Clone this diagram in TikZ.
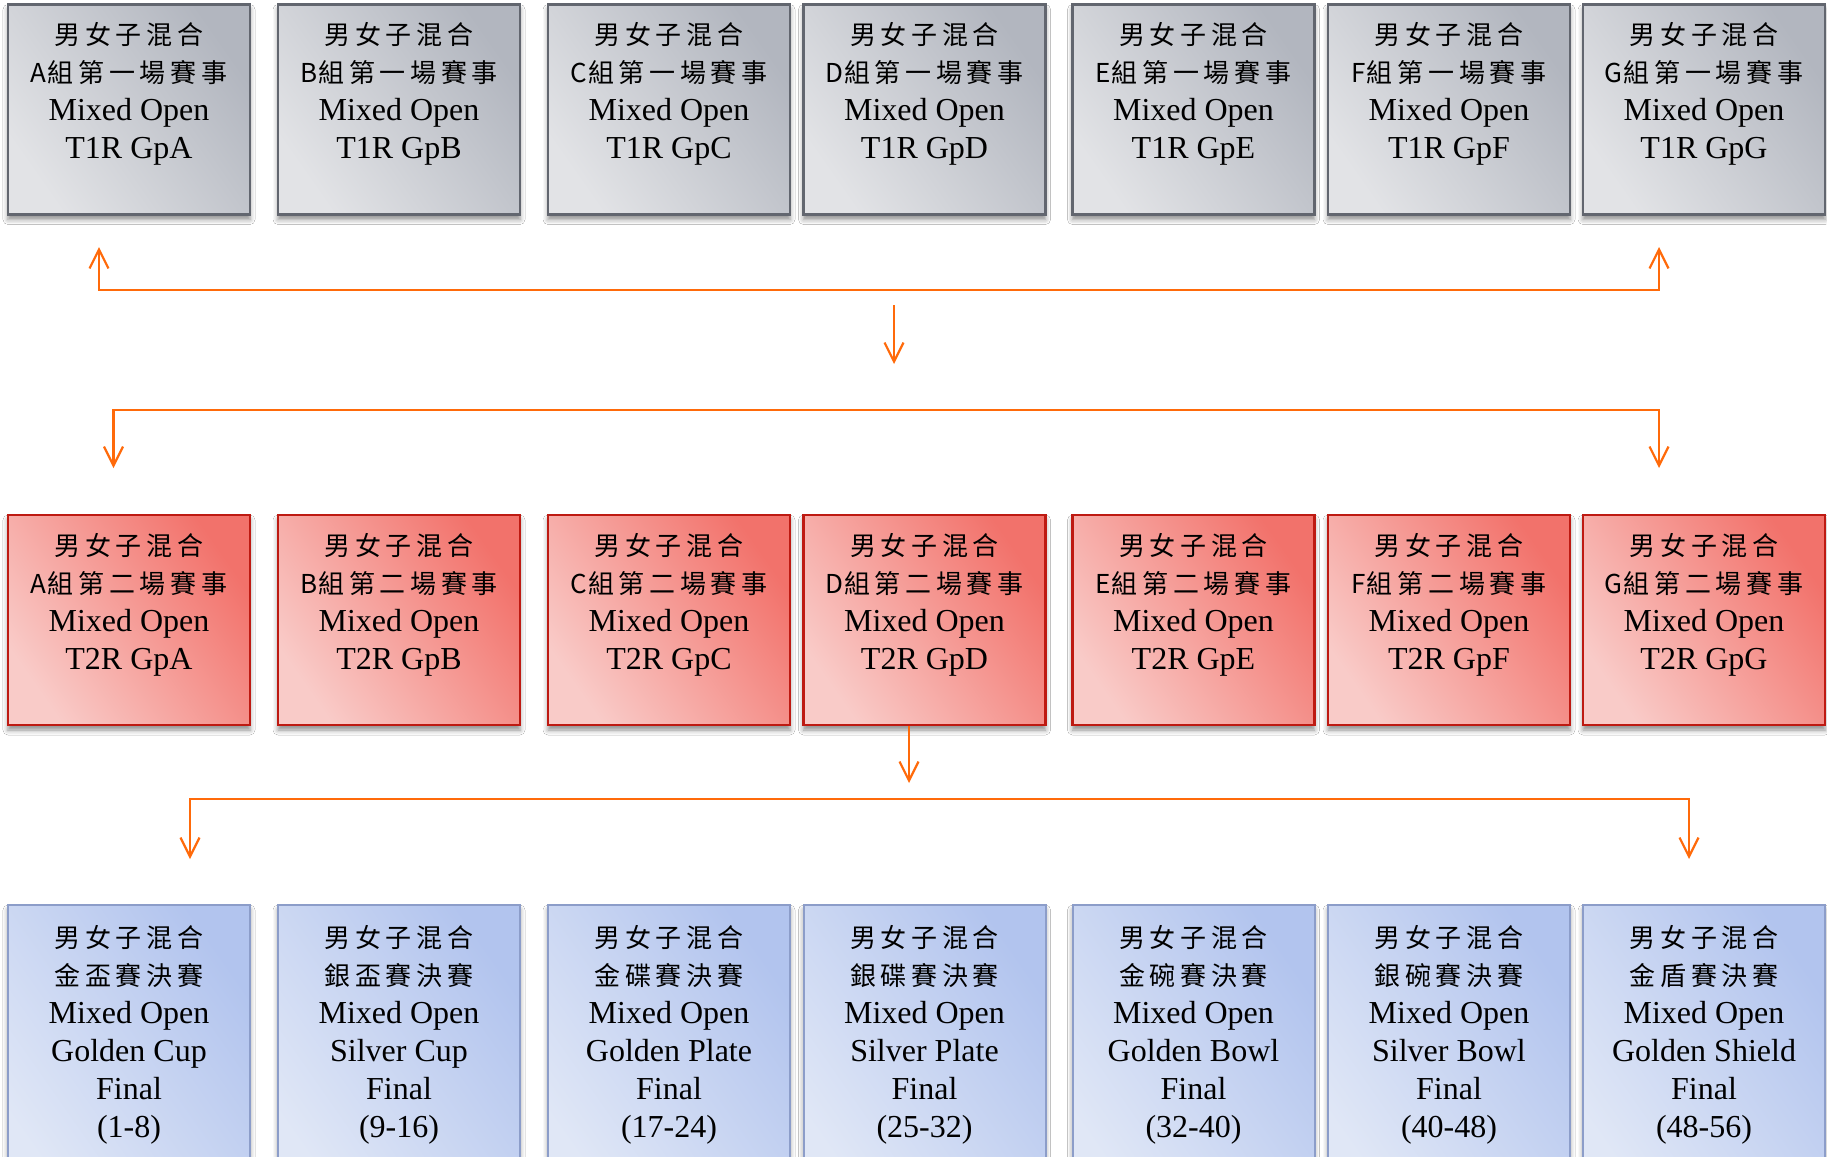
\documentclass[tikz,border=0pt]{standalone}
\usepackage{fontspec}
\setmainfont{Liberation Serif}
\newfontfamily\cjk{Noto Sans CJK TC}[LetterSpace=18]
\newfontfamily\cjkn{Noto Sans CJK TC}
\usetikzlibrary{arrows.meta,shadows.blur}
\definecolor{grayB}{HTML}{62666F}
\definecolor{grayD}{HTML}{B2B6BF}
\definecolor{grayL}{HTML}{E2E3E6}
\definecolor{redB}{HTML}{BE1A12}
\definecolor{redD}{HTML}{F2726B}
\definecolor{redL}{HTML}{F9CBC8}
\definecolor{bluB}{HTML}{8C9DC9}
\definecolor{bluD}{HTML}{B2C4EE}
\definecolor{bluL}{HTML}{E0E7F6}
\definecolor{orng}{HTML}{FF6A0A}
\newcommand\zhl[1]{{\cjk\fontsize{13}{19}\selectfont #1}}
\newcommand\zhg[2]{{\fontsize{13}{19}\selectfont{\cjkn #1}\kern0.5pt{\cjk #2}}}
\tikzset{
  boxbase/.style={rectangle, minimum width=121pt, inner sep=0pt, line width=1.3pt,
    blur shadow={shadow xshift=0pt, shadow yshift=-2.5pt, shadow blur radius=2.5pt, shadow opacity=45}},
  graybox/.style={boxbase, minimum height=105pt, draw=grayB, top color=grayD, bottom color=grayL, shading angle=-55},
  redbox/.style={boxbase, minimum height=105pt, draw=redB, top color=redD, bottom color=redL, shading angle=-55},
  blubox/.style={boxbase, minimum height=150pt, line width=1pt, draw=bluB, top color=bluD, bottom color=bluL, shading angle=-55},
  txt/.style={anchor=north, align=center, inner sep=0pt, yshift=-9.5pt, font=\fontsize{16}{19}\selectfont},
  tipb/.tip={Straight Barb[length=9.5pt,width=9.5pt]},
  arr/.style={draw=orng, line width=1.1pt, line join=miter, -tipb},
  biarr/.style={draw=orng, line width=1.1pt, line join=miter, tipb-tipb}
}
\begin{document}
\begin{tikzpicture}[x=0.5pt,y=-0.5pt]
\useasboundingbox (0,0) rectangle (1827,1157);
\fill[white] (0,0) rectangle (1827,1157);
\clip (0,0) rectangle (1827,1157);
% row 1
\foreach \n/\x in {A/129,B/399,C/669,D/924.5,E/1193.5,F/1449,G/1704}{
  \node[graybox] (\n1) at (\x,109.5) {};
  \node[txt] (\n1t) at (\n1.north) {\zhl{男女子混合}\\ \zhg{\n}{組第一場賽事}\\ Mixed Open\\ T1R Gp{\n}};
}
% row 2
\foreach \n/\x in {A/129,B/399,C/669,D/924.5,E/1193.5,F/1449,G/1704}{
  \node[redbox] (\n2) at (\x,620) {};
  \node[txt] (\n2t) at (\n2.north) {\zhl{男女子混合}\\ \zhg{\n}{組第二場賽事}\\ Mixed Open\\ T2R Gp{\n}};
}
% row 3
\foreach \n/\x/\z/\e/\r in {A/129/金盃賽決賽/Golden Cup/(1-8),
    B/399/銀盃賽決賽/Silver Cup/(9-16),
    C/669/金碟賽決賽/Golden Plate/(17-24),
    D/924.5/銀碟賽決賽/Silver Plate/(25-32),
    E/1193.5/金碗賽決賽/Golden Bowl/(32-40),
    F/1449/銀碗賽決賽/Silver Bowl/(40-48),
    G/1704/金盾賽決賽/Golden Shield/(48-56)}{
  \node[blubox] (\n3) at (\x,1055) {};
  \node[txt, yshift=-1pt] (\n3t) at (\n3.north) {\zhl{男女子混合}\\ \zhl{\z}\\ Mixed Open\\ {\e}\\ Final\\ {\r}};
}
% connectors
\coordinate (t1L) at (99,247);
\coordinate (h1L) at (99,290);
\coordinate (h1R) at (1659,290);
\coordinate (t1R) at (1659,247);
\draw[biarr] (t1L) -- (h1L) -- (h1R) -- (t1R);
\coordinate (m1s) at (894,305);
\coordinate (m1e) at (894,364);
\draw[arr] (m1s) -- (m1e);
\coordinate (b2L) at (113.5,468);
\coordinate (h2L) at (113.5,410);
\coordinate (h2R) at (1659,410);
\coordinate (b2R) at (1659,468);
\draw[biarr] (b2L) -- (h2L) -- (h2R) -- (b2R);
\coordinate (m2e) at (909,783);
\draw[arr] (m2e |- D2.south) -- (m2e);
\coordinate (b3L) at (190,859);
\coordinate (h3L) at (190,799);
\coordinate (h3R) at (1689,799);
\coordinate (b3R) at (1689,859);
\draw[biarr] (b3L) -- (h3L) -- (h3R) -- (b3R);
\end{tikzpicture}
\end{document}
